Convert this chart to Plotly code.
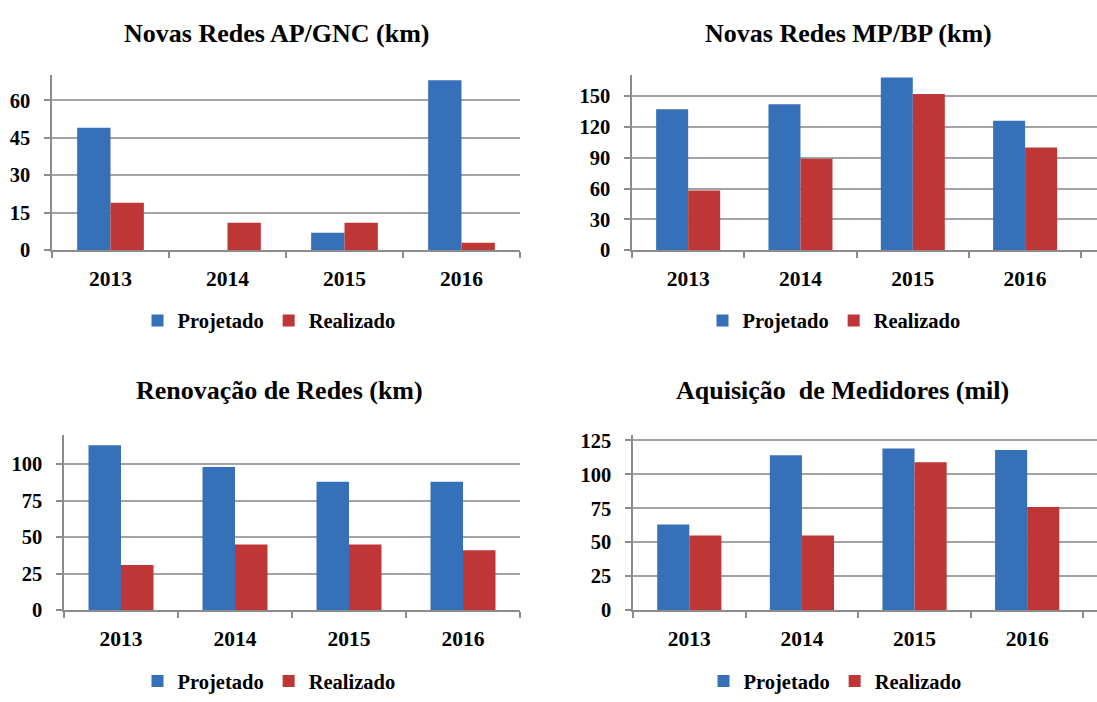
import plotly.graph_objects as go

years = ["2013", "2014", "2015", "2016"]

titles = [
    "Novas Redes AP/GNC (km)",
    "Novas Redes MP/BP (km)",
    "Renovação de Redes (km)",
    "Aquisição\u00a0 de Medidores (mil)",
]

ap_gnc_projetado = [49, 0, 7, 68]
ap_gnc_realizado = [19, 11, 11, 3]

mp_bp_projetado = [137, 142, 168, 126]
mp_bp_realizado = [58, 89, 152, 100]

renovacao_projetado = [113, 98, 88, 88]
renovacao_realizado = [31, 45, 45, 41]

medidores_projetado = [63, 114, 119, 118]
medidores_realizado = [55, 55, 109, 76]

y_ranges = [[0, 70], [0, 170], [0, 120], [0, 129]]
y_dticks = [15, 30, 25, 25]
x_ranges = [[-0.5, 3.5], [-0.5, 3.64], [-0.5, 3.5], [-0.5, 3.62]]

series = [
    (ap_gnc_projetado, ap_gnc_realizado),
    (mp_bp_projetado, mp_bp_realizado),
    (renovacao_projetado, renovacao_realizado),
    (medidores_projetado, medidores_realizado),
]

W, H = 1097, 702
# pixel boxes [x0, x1, ytop, ybottom]
boxes = [
    (52, 520, 72, 251),
    (632, 1097, 72, 251),
    (64, 520, 440, 619.3),
    (633, 1097, 440, 619.3),
]
title_pos = [(277, 29), (848, 29), (279, 395), (842, 395)]
legend_pos = [(269, 323), (834, 323), (269, 692), (835, 692)]

BLUE = "#3670b8"
RED = "#be3636"
FONT = "Liberation Serif, Times New Roman, Tinos, serif"

fig = go.Figure()
legend_names = ["legend", "legend2", "legend3", "legend4"]

for i, (proj, real) in enumerate(series):
    xa = "x" if i == 0 else f"x{i+1}"
    ya = "y" if i == 0 else f"y{i+1}"
    fig.add_trace(go.Bar(x=years, y=proj, name="Projetado", marker=dict(color=BLUE, line=dict(width=0)),
                         xaxis=xa, yaxis=ya, legend=legend_names[i]))
    fig.add_trace(go.Bar(x=years, y=real, name="Realizado", marker=dict(color=RED, line=dict(width=0)),
                         xaxis=xa, yaxis=ya, legend=legend_names[i]))

layout = dict(
    width=W, height=H,
    margin=dict(l=0, r=0, t=0, b=0),
    paper_bgcolor="white", plot_bgcolor="white",
    barmode="group", bargap=0.43, bargroupgap=0,
    font=dict(family=FONT, color="black"),
    annotations=[],
)

for i in range(4):
    x0, x1, yt, yb = boxes[i]
    sx = "" if i == 0 else str(i + 1)
    layout[f"xaxis{sx}"] = dict(
        domain=[x0 / W, x1 / W], anchor=f"y{sx}", type="category", range=x_ranges[i],
        showline=True, linecolor="#8c8c8c", linewidth=1.5,
        ticks="outside", ticklen=6, tickcolor="#8c8c8c", tickwidth=1.5, tickson="boundaries",
        showgrid=False, ticklabelstandoff=8,
        tickfont=dict(family=FONT, size=21.5, weight="bold", color="black"),
    )
    layout[f"yaxis{sx}"] = dict(
        domain=[1 - yb / H, 1 - yt / H], anchor=f"x{sx}", range=y_ranges[i], dtick=y_dticks[i],
        showline=True, linecolor="#8c8c8c", linewidth=1.5,
        ticks="outside", ticklen=6, tickcolor="#8c8c8c", tickwidth=1.5,
        showgrid=True, gridcolor="#a3a3a3", gridwidth=1.5, zeroline=False,
        ticklabelstandoff=10,
        tickfont=dict(family=FONT, size=20.5, weight="bold", color="black"),
    )
    lx, ly = legend_pos[i]
    layout[legend_names[i]] = dict(
        orientation="h", x=lx / W, xanchor="center", y=1 - ly / H, yanchor="middle",
        font=dict(family=FONT, size=20.5, weight="bold", color="black"),
        bgcolor="rgba(0,0,0,0)", itemwidth=30, tracegroupgap=0,
    )
    tx, ty = title_pos[i]
    layout["annotations"].append(dict(
        text=titles[i], x=tx / W, y=1 - ty / H, xref="paper", yref="paper",
        xanchor="center", yanchor="middle", showarrow=False,
        font=dict(family=FONT, size=26, weight="bold", color="black"),
    ))

fig.update_layout(**layout)
fig.write_html("out.html", config={"displayModeBar": False},
               post_script="document.body.style.margin='0';document.body.style.overflow='hidden';")
